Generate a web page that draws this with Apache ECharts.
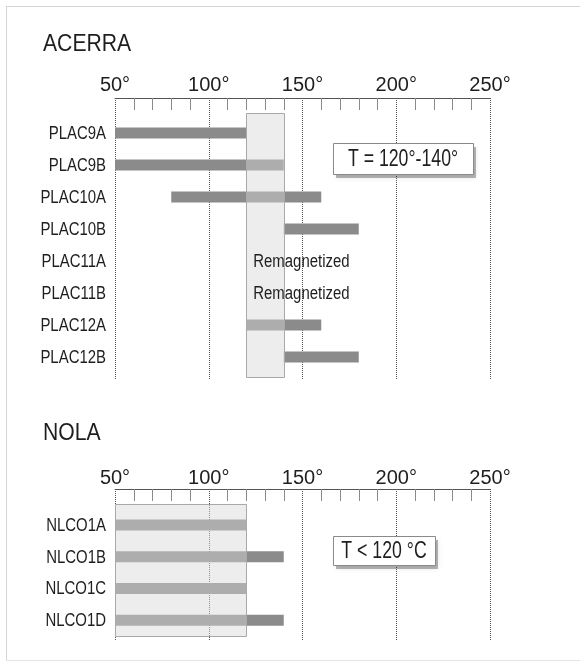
<!DOCTYPE html>
<html>
<head>
<meta charset="utf-8">
<script src="https://cdn.jsdelivr.net/npm/echarts@6/dist/echarts.min.js"></script>
<style>
  html, body { margin: 0; padding: 0; background: #fff; }
  #chart { width: 580px; height: 662px; }
</style>
</head>
<body>
<div id="chart"></div>
<script>
// Temperature axis (°)
const tempMin = 50;
const tempMax = 250;
const tempStep = 50;

// ACERRA site: unblocking temperature ranges per specimen
const acerraSamples = ['PLAC9A', 'PLAC9B', 'PLAC10A', 'PLAC10B', 'PLAC11A', 'PLAC11B', 'PLAC12A', 'PLAC12B'];
const acerraFrom = [50, 50, 80, 140, null, null, 120, 140];
const acerraTo   = [120, 140, 160, 180, null, null, 160, 180];
const acerraNotes = ['', '', '', '', 'Remagnetized', 'Remagnetized', '', ''];
const acerraBand = [120, 140];
const acerraBox = 'T = 120°-140°';

// NOLA site
const nolaSamples = ['NLCO1A', 'NLCO1B', 'NLCO1C', 'NLCO1D'];
const nolaFrom = [50, 50, 50, 50];
const nolaTo   = [120, 140, 120, 140];
const nolaBand = [50, 120];
const nolaBox = 'T < 120 °C';

const SANS = '"Liberation Sans", Arial, Helvetica, sans-serif';
const TEXT = '#1e1e1e';
const BAR_COLOR = '#8b8b8b';
const BAR_H = 11;
const NARROW_X = 0.83;   // horizontal squeeze for the condensed label face

const chart = echarts.init(document.getElementById('chart'), null, { renderer: 'canvas' });

function frameXAxis(gridIndex, labelMargin) {
  return {
    type: 'value', gridIndex, position: 'top',
    min: tempMin, max: tempMax, interval: tempStep,
    axisLine: { show: true, onZero: false, lineStyle: { color: '#555', width: 1 } },
    axisTick: { show: false, inside: true },
    minorTick: { show: true, splitNumber: 5, length: 12, lineStyle: { color: '#8a8a8a', width: 1 } },
    splitLine: { show: true, lineStyle: { color: '#555', width: 1, type: [1, 1] } },
    axisLabel: { formatter: '{value}°', fontSize: 20, fontFamily: SANS, color: TEXT, margin: labelMargin }
  };
}
function hiddenXAxis(gridIndex) {
  return { type: 'value', gridIndex, min: tempMin, max: tempMax, show: false };
}
function hiddenYAxis(gridIndex) {
  return { type: 'value', gridIndex, min: 0, max: 1, show: false };
}
function sampleYAxis(gridIndex, names) {
  return {
    type: 'category', gridIndex, data: names, inverse: true,
    axisLine: { show: false }, axisTick: { show: false }, splitLine: { show: false },
    axisLabel: { show: false }
  };
}

// specimen names, right-aligned just left of the plot area
function sampleLabelSeries(axisIndex, names) {
  return {
    type: 'custom', xAxisIndex: axisIndex, yAxisIndex: axisIndex, z: 4, silent: true,
    data: names.map((n, i) => [i]),
    encode: { y: 0 },
    renderItem(params, api) {
      const cs = params.coordSys;
      const p = api.coord([tempMin, api.value(0)]);
      return { type: 'text', x: cs.x - 9, y: p[1] + 1, scaleX: NARROW_X,
               style: { text: names[params.dataIndex], fontSize: 18, fontFamily: SANS, fill: TEXT,
                        align: 'right', verticalAlign: 'middle' } };
    }
  };
}

function rangeSeries(axisIndex, from, to) {
  return {
    type: 'custom', xAxisIndex: axisIndex, yAxisIndex: axisIndex, z: 2,
    data: from.map((f, i) => [i, f, to[i]]),
    encode: { y: 0, x: [1, 2] },
    renderItem(params, api) {
      const f = api.value(1), t = api.value(2);
      if (f == null || isNaN(f)) return null;
      const a = api.coord([f, api.value(0)]);
      const b = api.coord([t, api.value(0)]);
      return { type: 'rect', shape: { x: a[0], y: a[1] - BAR_H / 2, width: b[0] - a[0], height: BAR_H },
               style: { fill: BAR_COLOR } };
    }
  };
}

function bandSeries(axisIndex, band, padTop, padBottom) {
  return {
    type: 'custom', xAxisIndex: axisIndex, yAxisIndex: axisIndex, z: 3, silent: true,
    data: [[band[0], band[1]]],
    encode: { x: [0, 1] },
    renderItem(params, api) {
      const cs = params.coordSys;
      const a = api.coord([api.value(0), 0]);
      const b = api.coord([api.value(1), 0]);
      return { type: 'rect',
               shape: { x: Math.round(a[0]) + 0.5, y: cs.y - padTop + 0.5, width: Math.round(b[0] - a[0]), height: cs.height + padTop + padBottom },
               style: { fill: 'rgba(215,215,215,0.45)', stroke: '#a9a9a9', lineWidth: 1 } };
    }
  };
}

function noteSeries(axisIndex, notes, anchor) {
  return {
    type: 'custom', xAxisIndex: axisIndex, yAxisIndex: axisIndex, z: 4, silent: true,
    data: notes.map((n, i) => [i, anchor]),
    encode: { y: 0, x: 1 },
    renderItem(params, api) {
      const txt = notes[params.dataIndex];
      if (!txt) return null;
      const p = api.coord([api.value(1), api.value(0)]);
      return { type: 'text', x: p[0] + 7, y: p[1] + 1, scaleX: NARROW_X,
               style: { text: txt, fontSize: 18, fontFamily: SANS, fill: TEXT, verticalAlign: 'middle', align: 'left' } };
    }
  };
}

function noteBox(left, top, w, h, text) {
  return [
    { type: 'rect', left: left + 3, top: top + 4, z: 10,
      shape: { width: w, height: h }, style: { fill: 'rgba(0,0,0,0.28)', shadowBlur: 5, shadowColor: 'rgba(0,0,0,0.35)' } },
    { type: 'rect', left: left, top: top, z: 11,
      shape: { width: w, height: h }, style: { fill: '#fff', stroke: '#8a8a8a', lineWidth: 1 } },
    { type: 'text', x: left + w / 2, y: top + h / 2 + 1, z: 12, scaleX: 0.77,
      style: { text: text, fontSize: 23, fontFamily: SANS, fill: TEXT, align: 'center', verticalAlign: 'middle' } }
  ];
}

const option = {
  animation: false,
  backgroundColor: '#fff',
  grid: [
    { left: 115, top: 98, width: 375, height: 282 },
    { left: 115, top: 117, width: 375, height: 256 },
    { left: 115, top: 489, width: 375, height: 151 },
    { left: 115, top: 509, width: 375, height: 127 }
  ],
  xAxis: [frameXAxis(0, 3), hiddenXAxis(1), frameXAxis(2, 1), hiddenXAxis(3)],
  yAxis: [hiddenYAxis(0), sampleYAxis(1, acerraSamples), hiddenYAxis(2), sampleYAxis(3, nolaSamples)],
  series: [
    { type: 'line', xAxisIndex: 0, yAxisIndex: 0, data: [], silent: true },
    { type: 'line', xAxisIndex: 2, yAxisIndex: 2, data: [], silent: true },
    rangeSeries(1, acerraFrom, acerraTo),
    bandSeries(1, acerraBand, 4, 4),
    noteSeries(1, acerraNotes, acerraBand[0]),
    sampleLabelSeries(1, acerraSamples),
    rangeSeries(3, nolaFrom, nolaTo),
    bandSeries(3, nolaBand, 5, 0),
    sampleLabelSeries(3, nolaSamples)
  ],
  graphic: [
    { type: 'line', shape: { x1: 6.5, y1: 6, x2: 6.5, y2: 660 }, style: { stroke: '#d6d6d6', lineWidth: 1 }, z: 1 },
    { type: 'line', shape: { x1: 6, y1: 6.5, x2: 580, y2: 6.5 }, style: { stroke: '#d6d6d6', lineWidth: 1 }, z: 1 },
    { type: 'line', shape: { x1: 6, y1: 660.5, x2: 580, y2: 660.5 }, style: { stroke: '#e4e4e4', lineWidth: 1 }, z: 1 },
    { type: 'text', x: 43, y: 45, scaleX: 0.92, style: { text: 'ACERRA', fontSize: 23, fontFamily: SANS, fill: TEXT, verticalAlign: 'middle' } },
    { type: 'text', x: 43, y: 434, scaleX: 0.92, style: { text: 'NOLA', fontSize: 23, fontFamily: SANS, fill: TEXT, verticalAlign: 'middle' } },
    ...noteBox(333, 143, 140, 31, acerraBox),
    ...noteBox(333, 536, 102, 29, nolaBox)
  ]
};

chart.setOption(option);
</script>
</body>
</html>
